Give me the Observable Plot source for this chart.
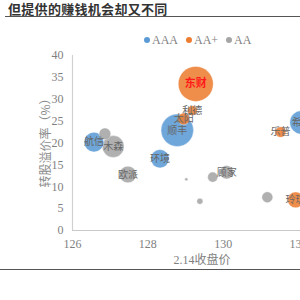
<!DOCTYPE html>
<html><head><meta charset="utf-8">
<script src="https://cdn.jsdelivr.net/npm/d3@7"></script>
<script src="https://cdn.jsdelivr.net/npm/@observablehq/plot@0.6"></script>
<style>
body{margin:0;background:#fff;}
#wrap{position:relative;width:300px;height:300px;overflow:hidden;font-family:"Liberation Serif","Noto Sans CJK SC",serif;}
#title{position:absolute;left:8px;top:-1px;font:bold 13px "Noto Sans CJK SC",sans-serif;color:#333;letter-spacing:0.3px;}
#tline{position:absolute;left:5px;right:0;top:16px;border-top:1.3px solid #555;}
#bline{position:absolute;left:0;right:0;top:269px;border-top:1.3px solid #555;}
#legend{position:absolute;left:136px;top:33px;font:12px "Liberation Serif",serif;color:#7f7f7f;white-space:nowrap;}
#legend span.d{display:inline-block;width:6px;height:6px;border-radius:50%;margin:0 2px 2px 8px;vertical-align:middle;}
#ylab{position:absolute;left:44px;top:140px;transform:translate(-50%,-50%) rotate(-90deg);font:12px "Noto Sans CJK SC",serif;color:#8a8a8a;white-space:nowrap;}
#xlab{position:absolute;left:202px;top:250px;transform:translateX(-50%);font:12px "Liberation Serif","Noto Sans CJK SC",serif;color:#7f7f7f;white-space:nowrap;}
svg{overflow:hidden;}
</style></head>
<body><div id="wrap">
<div id="title">但提供的赚钱机会却又不同</div>
<div id="tline"></div>
<div id="legend"></div>
<div id="ylab">转股溢价率（%）</div>
<div id="xlab">2.14收盘价</div>
<div id="bline"></div>
</div>
<script>
const names   = ["航信","","木森","欧派","环境","顺丰","太阳","利德","东财","","","顾家","","","乐普","希望","玲珑"];
const ratings = ["AAA","AA","AA","AA","AAA","AAA","AA+","AA+","AA+","AA","AA","AA","AA","AA","AA+","AAA","AA+"];
const prices  = [126.57,126.86,127.08,127.47,128.32,128.78,128.95,129.18,129.27,129.02,129.72,130.09,129.38,131.17,131.52,132.08,131.92];
const premiums= [20.2,22.1,19.2,12.8,16.4,22.9,25.5,27.4,33.5,11.7,12.2,13.3,6.7,7.6,22.5,24.7,7.0];
const sizes   = [14,5,17,10,12,38,5,3.5,44,0.35,3.6,6.5,1.3,4.3,4,20,9];
const ratingOrder = ["AAA","AA+","AA"];
const ratingColors = ["#5b9bd5","#ed7d31","#a5a5a5"];
const xTicks = [126,128,130,132];
const yTicks = [0,5,10,15,20,25,30,35,40];

const data = names.map((n,i)=>({name:n, rating:ratings[i], price:prices[i], premium:premiums[i], size:sizes[i]}));

const leg = document.getElementById("legend");
ratingOrder.forEach((r,i)=>{
  leg.insertAdjacentHTML("beforeend", `<span class="d" style="background:${ratingColors[i]}"></span>${r}`);
});

const serif = "Liberation Serif, serif";
const chart = Plot.plot({
  width:300, height:300,
  marginTop:55, marginBottom:70, marginLeft:72, marginRight:0,
  style:{fontFamily:serif, fontSize:"11px", color:"#7f7f7f", background:"transparent"},
  x:{domain:[126,132.05], ticks:xTicks, label:null},
  y:{domain:[0,40], ticks:yTicks, label:null},
  r:{type:"sqrt", domain:[0,44], range:[0,17.5]},
  color:{domain:ratingOrder, range:ratingColors},
  marks:[
    Plot.axisY({ticks:yTicks, tickSize:0, tickPadding:9, label:null, fill:"#7f7f7f", fontSize:12, fontFamily:serif, tickFormat:d3.format("d")}),
    Plot.axisX({ticks:xTicks, tickSize:0, tickPadding:9, label:null, fill:"#7f7f7f", fontSize:12, fontFamily:serif, tickFormat:d3.format("d")}),
    Plot.ruleX([126], {stroke:"#d0d0d0", strokeWidth:1.2}),
    Plot.ruleY([0], {stroke:"#c8c8c8", strokeWidth:1.2}),
    Plot.dot(data, {x:"price", y:"premium", r:"size", fill:"rating", fillOpacity:0.88, stroke:"#fff", strokeWidth:0.6, strokeOpacity:0.6}),
    Plot.text(data.filter(d=>d.name && d.name!=="东财"), {x:"price", y:"premium", text:"name", fill:"#666", fontSize:10, fontFamily:"Noto Sans CJK SC, serif"}),
    Plot.text(data.filter(d=>d.name==="东财"), {x:"price", y:"premium", text:"name", fill:"#ff1a1a", fontSize:11, fontWeight:"bold", fontFamily:"Noto Sans CJK SC, sans-serif"})
  ]
});
chart.style.position="absolute"; chart.style.left="0"; chart.style.top="0";
document.getElementById("wrap").prepend(chart);
</script>
</body></html>
